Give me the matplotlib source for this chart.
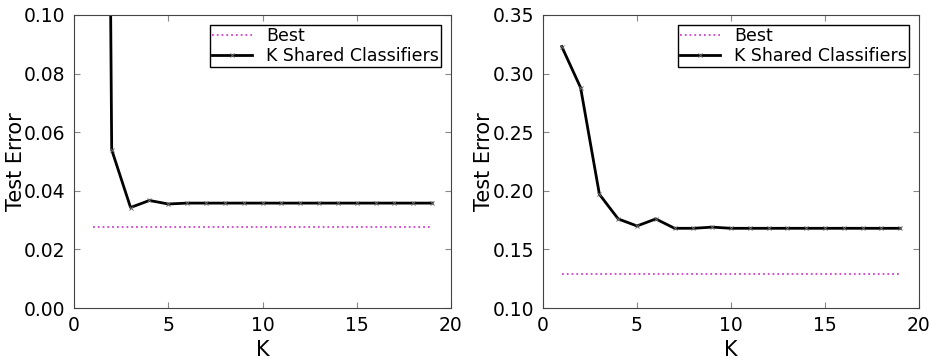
import numpy as np
import matplotlib
matplotlib.use("Agg")
import matplotlib.pyplot as plt

# data
k = np.arange(1, 20)
left_err = [0.90, 0.054, 0.0343, 0.0367, 0.0355] + [0.0358] * 14
left_best = 0.0275
right_err = [0.323, 0.288, 0.197, 0.176, 0.170, 0.176, 0.168, 0.168, 0.169] + [0.168] * 10
right_best = 0.129

left_yticks = [0.00, 0.02, 0.04, 0.06, 0.08, 0.10]
right_yticks = [0.10, 0.15, 0.20, 0.25, 0.30, 0.35]
xticks = [0, 5, 10, 15, 20]

fig = plt.figure(figsize=(9.33, 3.58), dpi=100)
ax1 = fig.add_axes([74/933, 1 - 308/358, 377/933, 293/358])
ax2 = fig.add_axes([543/933, 1 - 308/358, 376/933, 293/358])

def panel(ax, err, best, yticks, ylab_x):
    ax.plot(k, [best] * len(k), ':', color='#d040d0', lw=1.3, label='Best')
    ax.plot(k, err, '-', color='black', lw=2, marker='x', ms=3.5,
            mec='#666666', mew=0.7, label='K Shared Classifiers')
    ax.set_xlim(0, 20)
    ax.set_ylim(yticks[0], yticks[-1])
    ax.set_xticks(xticks)
    ax.set_yticks(yticks)
    ax.set_yticklabels([f'{t:.2f}' for t in yticks])
    ax.tick_params(direction='in', top=True, right=True, labelsize=13.5,
                   length=4, color='#888888', pad=6)
    ax.set_xlabel('K', fontsize=15, labelpad=3)
    ax.set_ylabel('Test Error', fontsize=15)
    ax.yaxis.set_label_coords(ylab_x, 0.5)
    for s in ax.spines.values():
        s.set_color('#444444')
    leg = ax.legend(loc='upper right', fontsize=12.5, fancybox=False,
                    framealpha=1, edgecolor='black', handlelength=2.3,
                    handletextpad=0.8, borderpad=0.1, labelspacing=0.1,
                    borderaxespad=0.6)
    leg.get_frame().set_linewidth(1)

panel(ax1, left_err, left_best, left_yticks, -0.127)
panel(ax2, right_err, right_best, right_yticks, -0.130)

fig.savefig('out.png', dpi=100)
